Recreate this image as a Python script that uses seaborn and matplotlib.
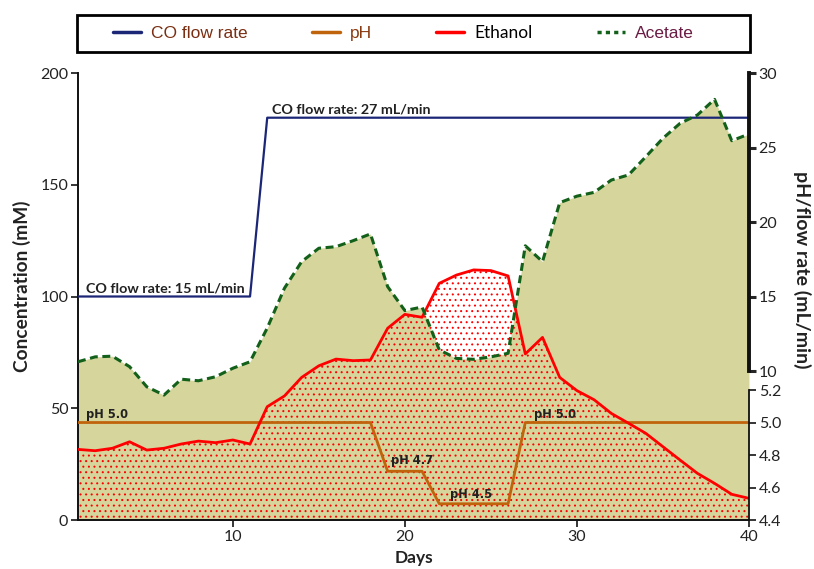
import numpy as np
import pandas as pd
import matplotlib
matplotlib.use("Agg")
import matplotlib.pyplot as plt
import seaborn as sns
from matplotlib.lines import Line2D
from matplotlib.patches import Rectangle

# ---- data -------------------------------------------------------------
days = list(range(1, 41))
acetate = [70.8, 73.0, 73.3, 68.6, 59.6, 55.9, 63.0, 62.3, 64.1, 67.9,
           70.8, 85.9, 103.7, 115.6, 121.6, 122.3, 125.0, 128.0, 104.4, 93.7,
           95.3, 76.1, 72.3, 71.9, 73.0, 74.6, 122.7, 115.6, 142.0, 144.9,
           146.6, 152.1, 154.4, 162.5, 170.8, 177.5, 181.2, 188.2, 169.7, 172.7]
ethanol = [31.6, 31.0, 32.1, 35.0, 31.3, 32.1, 34.0, 35.3, 34.6, 35.8,
           34.0, 50.7, 55.5, 63.8, 69.0, 72.0, 71.3, 71.6, 85.8, 92.0,
           90.7, 105.9, 109.6, 111.9, 111.6, 109.2, 74.3, 81.7, 63.8, 57.9,
           53.8, 47.7, 43.3, 38.8, 32.8, 26.8, 20.9, 16.4, 11.5, 9.7]
co_flow = [15] * 11 + [27] * 29
ph = [5.0] * 18 + [4.7] * 3 + [4.5] * 5 + [5.0] * 14

conc_ticks = [0, 50, 100, 150, 200]
day_ticks = [10, 20, 30, 40]
flow_ticks = [10, 15, 20, 25, 30]
ph_ticks = [4.4, 4.6, 4.8, 5.0, 5.2]

legend_labels = ["CO flow rate", "pH", "Ethanol", "Acetate"]

# ---- broken right axis: flow (10-30) and pH (4.4-5.2) share the mM scale
FLOW_SCALE = 200 / 30
PH_BASE, PH_SCALE = 4.4, 72.7


def flow_pos(v):
    return np.asarray(v, dtype=float) * FLOW_SCALE


def ph_pos(v):
    return (np.asarray(v, dtype=float) - PH_BASE) * PH_SCALE


df = pd.DataFrame({
    "Days": days,
    "Acetate": acetate,
    "Ethanol": ethanol,
    "Flow": flow_pos(co_flow),
    "pH": ph_pos(ph),
})

# ---- style ------------------------------------------------------------
sns.set_theme(style="ticks")
plt.rcParams["font.family"] = ["Lato", "DejaVu Sans"]
plt.rcParams["hatch.linewidth"] = 0.7

KHAKI = "#d6d59c"
GREEN = "#13601a"
RED = "#ff0000"
NAVY = "#1b2677"
ORANGE = "#c0640c"
TXT = "#222222"

fig = plt.figure(figsize=(8.14, 5.69), dpi=100)
ax = fig.add_axes([0.0958, 0.0861, 0.8243, 0.7856])

# filled areas
ax.fill_between(df["Days"], 0, df["Acetate"], color=KHAKI, lw=0, zorder=1)
ax.fill_between(df["Days"], 0, df["Ethanol"], facecolor="none",
                edgecolor=RED, hatch="...", lw=0, zorder=2)

# lines
sns.lineplot(data=df, x="Days", y="Flow", color=NAVY, lw=1.6, ax=ax, zorder=3)
sns.lineplot(data=df, x="Days", y="pH", color=ORANGE, lw=2.0, ax=ax, zorder=3)
sns.lineplot(data=df, x="Days", y="Ethanol", color=RED, lw=2.0, ax=ax, zorder=4)
sns.lineplot(data=df, x="Days", y="Acetate", color=GREEN, lw=2.2,
             linestyle=(0, (2.6, 1.5)), ax=ax, zorder=5)

ax.set_xlim(1, 40)
ax.set_ylim(0, 200)
ax.set_xticks(day_ticks)
ax.set_yticks(conc_ticks)
ax.tick_params(axis="both", labelsize=11.5, length=5, width=1.3,
               labelcolor=TXT, pad=2)
for s in ["top", "right"]:
    ax.spines[s].set_visible(False)
for s in ["left", "bottom"]:
    ax.spines[s].set_linewidth(1.4)
    ax.spines[s].set_color("#111111")

ax.set_xlabel("Days", fontsize=12.5, fontweight="bold", color=TXT, va="top")
ax.xaxis.set_label_coords(0.5, -0.068)
ax.set_ylabel("Concentration (mM)", fontsize=13.8, fontweight="bold",
              color=TXT, va="center")
ax.yaxis.set_label_coords(-0.0835, 0.522)

# right axis, upper part: flow rate
ax_flow = ax.twinx()
ax_flow.set_ylim(0, 200)
ax_flow.set_yticks(flow_pos(flow_ticks))
ax_flow.set_yticklabels([str(t) for t in flow_ticks])
ax_flow.spines["right"].set_bounds(flow_pos(10), flow_pos(30))
ax_flow.spines["right"].set_linewidth(2.8)
ax_flow.spines["right"].set_color("#111111")
for s in ["left", "top", "bottom"]:
    ax_flow.spines[s].set_visible(False)
ax_flow.tick_params(axis="y", labelsize=11.5, length=5, width=2.2,
                    labelcolor=TXT, pad=2)
ax_flow.set_ylabel("pH/flow rate (mL/min)", fontsize=14, fontweight="bold",
                   color=TXT, rotation=270, va="center", ha="center")
ax_flow.yaxis.set_label_coords(1.079, 0.559)

# right axis, lower part: pH
ax_ph = ax.twinx()
ax_ph.set_ylim(0, 200)
ax_ph.set_yticks(ph_pos(ph_ticks))
ax_ph.set_yticklabels([f"{t:.1f}" for t in ph_ticks])
ax_ph.spines["right"].set_bounds(ph_pos(4.4), ph_pos(5.2))
ax_ph.spines["right"].set_linewidth(1.3)
ax_ph.spines["right"].set_color("#111111")
for s in ["left", "top", "bottom"]:
    ax_ph.spines[s].set_visible(False)
ax_ph.tick_params(axis="y", labelsize=11.5, length=5, width=1.3,
                  labelcolor=TXT, pad=2)

# annotations
ax.text(1.45, 103.4, "CO flow rate: 15 mL/min", fontsize=10.3,
        fontweight="bold", color=TXT, va="center", zorder=6)
ax.text(12.25, 183.8, "CO flow rate: 27 mL/min", fontsize=10.3,
        fontweight="bold", color=TXT, va="center", zorder=6)
ph_font = dict(family=["DejaVu Sans"], fontsize=8.3, fontweight="bold",
               color=TXT, va="center", zorder=6)
ax.text(1.45, 47.0, "pH 5.0", **ph_font)
ax.text(27.5, 47.3, "pH 5.0", **ph_font)
ax.text(19.2, 26.5, "pH 4.7", **ph_font)
ax.text(22.6, 11.6, "pH 4.5", **ph_font)

# legend box above the plot
frame = Rectangle((-0.0015, 1.047), 1.003, 0.083, transform=ax.transAxes,
                  facecolor="white", edgecolor="black", lw=2.0,
                  clip_on=False, zorder=9)
ax.add_patch(frame)
handles = [
    Line2D([], [], color=NAVY, lw=2.5),
    Line2D([], [], color=ORANGE, lw=2.5),
    Line2D([], [], color=RED, lw=2.5),
    Line2D([], [], color=GREEN, lw=2.5, linestyle=(0, (1.2, 1.2))),
]
leg = ax.legend(handles, legend_labels, loc="center",
                bbox_to_anchor=(0.0417, 1.047, 0.8868, 0.083), mode="expand",
                ncol=4, borderaxespad=0, handlelength=1.6, handletextpad=0.6,
                frameon=False,
                prop={"family": ["Liberation Sans"], "size": 12.5})
leg_colors = ["#7a2e12", "#8a3a10", "#000000", "#6a1c44"]
for t, c in zip(leg.get_texts(), leg_colors):
    t.set_color(c)
leg.get_texts()[2].set_family(["Lato", "DejaVu Sans"])
leg.set_zorder(10)

fig.savefig("out.png", dpi=100)
